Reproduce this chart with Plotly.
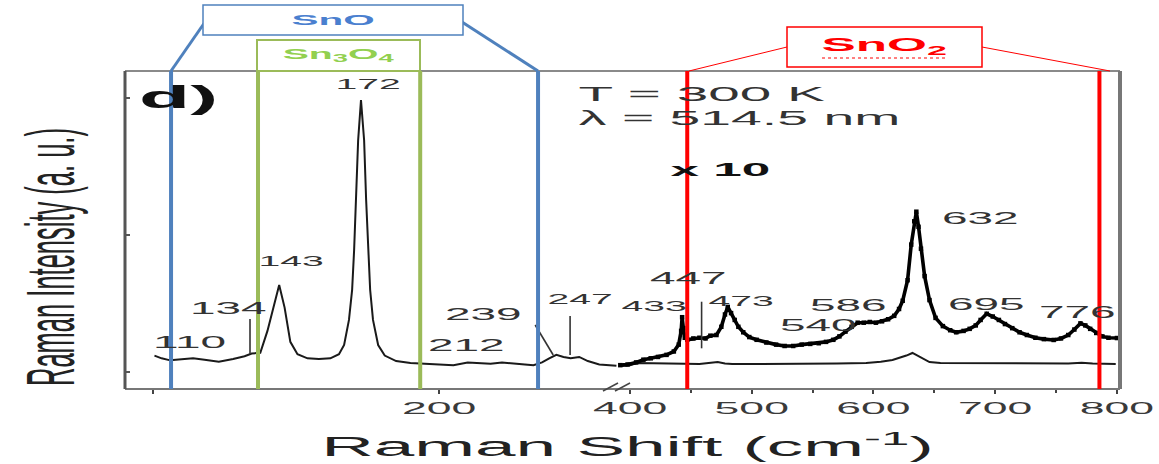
import plotly.graph_objects as go

# ---------------- data ----------------
# left segment of the broken axis (cm-1), unscaled spectrum
left_x = [100.5, 103, 106, 110, 114, 118, 123, 128, 132, 134.5, 137.5, 140, 142, 144.1, 146, 148,
          150.5, 154, 158, 162, 165, 166.8, 168.5, 169.6, 170.3, 171.0, 171.7, 172.7, 173.8, 174.5,
          175.2, 175.9, 176.9, 178.7, 181, 185, 190, 195, 200, 205, 210, 214, 218, 222, 226, 230,
          233, 236, 238.5, 241, 243.5, 246, 249, 252, 256, 259, 262]
left_y = [0.12, 0.10, 0.085, 0.095, 0.10, 0.09, 0.075, 0.095, 0.115, 0.135, 0.14, 0.30, 0.47, 0.635,
          0.47, 0.22, 0.13, 0.10, 0.095, 0.10, 0.13, 0.197, 0.38, 0.60, 0.89, 1.255, 1.69, 1.985,
          1.69, 1.255, 0.89, 0.60, 0.38, 0.197, 0.12, 0.08, 0.065, 0.06, 0.055, 0.05, 0.07, 0.065,
          0.06, 0.07, 0.06, 0.055, 0.05, 0.07, 0.10, 0.125, 0.11, 0.10, 0.11, 0.08, 0.055, 0.05, 0.045]

# right segment, unscaled spectrum
right_x = [391.8, 400, 405.7, 420, 430, 445, 457, 466, 472, 478, 484, 500, 539, 570, 594, 606, 615.6,
           622, 627, 632, 637, 642, 646, 655, 662, 700, 730, 760, 771, 780, 799]
right_y = [0.044, 0.05, 0.066, 0.062, 0.062, 0.06, 0.058, 0.065, 0.073, 0.062, 0.058, 0.058, 0.058,
           0.062, 0.066, 0.075, 0.088, 0.105, 0.12, 0.139, 0.115, 0.088, 0.073, 0.066, 0.066, 0.066,
           0.066, 0.062, 0.068, 0.062, 0.058]

# right segment, spectrum multiplied by 10
x10_x = [392, 398, 405, 411, 417, 423, 430, 436, 440, 442, 442.8, 443.8, 445, 447, 452, 457, 462, 466,
         471, 475, 478, 480.3, 483, 486, 489, 493, 498, 504, 512, 520, 527, 534, 541, 548, 555, 561,
         567, 572, 577, 582, 587, 592, 597, 602, 607, 612, 617, 621, 624, 628, 631, 633.5, 635.2, 637,
         639, 642, 646, 651, 657, 663, 668, 674, 679, 684, 688, 693, 698, 703, 708, 714, 720, 726,
         733, 740, 748, 754, 760, 765, 770, 774, 778, 783, 788, 793, 800]
x10_y = [0.05, 0.055, 0.07, 0.09, 0.10, 0.11, 0.125, 0.15, 0.20, 0.30, 0.40, 0.32, 0.25, 0.235, 0.245,
         0.25, 0.245, 0.265, 0.27, 0.33, 0.42, 0.475, 0.43, 0.38, 0.33, 0.29, 0.255, 0.235, 0.215,
         0.20, 0.19, 0.19, 0.20, 0.205, 0.21, 0.22, 0.235, 0.26, 0.295, 0.33, 0.36, 0.36, 0.365, 0.36,
         0.37, 0.385, 0.41, 0.46, 0.52, 0.67, 0.93, 1.10, 1.17, 1.06, 0.90, 0.70, 0.525, 0.395, 0.335,
         0.305, 0.29, 0.30, 0.315, 0.34, 0.38, 0.425, 0.405, 0.38, 0.35, 0.32, 0.29, 0.27, 0.25, 0.24,
         0.234, 0.245, 0.27, 0.31, 0.355, 0.34, 0.315, 0.285, 0.26, 0.25, 0.248]

# short peak-marker strokes
left_mark_x = [[133.9, 133.9], [245.8, 245.8], [233.6, 239.9]]
left_mark_y = [[0.131, 0.387], [0.124, 0.409], [0.343, 0.124]]
right_mark_x = [[458.8, 458.8]]
right_mark_y = [[0.173, 0.513]]

# peak labels
left_labels = ["110", "134", "143", "172", "212", "239", "247"]
left_label_x = [112.9, 126.2, 148.3, 175.2, 209.4, 215.4, 249.3]
left_label_y = [0.219, 0.467, 0.810, 2.102, 0.190, 0.423, 0.533]
right_labels = ["433", "447", "473", "540", "586", "632", "695", "776"]
right_label_x = [419.7, 447.5, 491.0, 554.1, 578.7, 687.7, 692.6, 767.2]
right_label_y = [0.482, 0.679, 0.518, 0.336, 0.489, 1.117, 0.496, 0.438]

# axis ticks
left_tickvals = [200]
left_minor_ticks = [100]
right_tickvals = [400, 500, 600, 700, 800]
right_minor_ticks = [450, 550, 650, 750]
y_tickvals = [0, 1, 2]

# phase ranges (cm-1)
sno_range = [106.3, 234.6]
sn3o4_range = [136.7, 193.4]
sno2_range = [447, 785.6]

# ---------------- layout helpers ----------------
W, H = 1159, 464
ML, MR, MT, MB = 125, 39, 71, 75
PW = W - ML - MR
PH = H - MT - MB


def px(v):
    return (v - ML) / PW


def py(v):
    return (H - MB - v) / PH


split = px(617)
FONT = "Liberation Sans, Arial, sans-serif"
TXT = "#333333"
BLUE = "#4F81BD"
GREEN = "#9BBB59"
RED = "#FF0000"

fig = go.Figure()

fig.add_trace(go.Scatter(x=left_x, y=left_y, xaxis="x", yaxis="y", mode="lines",
                         line=dict(color="#1a1a1a", width=2), hoverinfo="skip"))
fig.add_trace(go.Scatter(x=right_x, y=right_y, xaxis="x2", yaxis="y", mode="lines",
                         line=dict(color="#1a1a1a", width=2), hoverinfo="skip"))
fig.add_trace(go.Scatter(x=x10_x, y=x10_y, xaxis="x2", yaxis="y", mode="lines+markers",
                         line=dict(color="#000000", width=3.6),
                         marker=dict(symbol="square", size=4.5, color="#000000"),
                         hoverinfo="skip"))
for mx, my in zip(left_mark_x, left_mark_y):
    fig.add_trace(go.Scatter(x=mx, y=my, xaxis="x", yaxis="y", mode="lines",
                             line=dict(color="#333333", width=1.6), hoverinfo="skip"))
for mx, my in zip(right_mark_x, right_mark_y):
    fig.add_trace(go.Scatter(x=mx, y=my, xaxis="x2", yaxis="y", mode="lines",
                             line=dict(color="#333333", width=1.6), hoverinfo="skip"))

ann = []
small = {"143", "172", "247", "433", "473"}
for t, x, y in zip(left_labels, left_label_x, left_label_y):
    ann.append(dict(text=t, x=x, y=y, xref="x", yref="y", showarrow=False,
                    xanchor="center", yanchor="middle",
                    font=dict(family=FONT, size=14.5 if t in small else 17, color=TXT)))
for t, x, y in zip(right_labels, right_label_x, right_label_y):
    ann.append(dict(text=t, x=x, y=y, xref="x2", yref="y", showarrow=False,
                    xanchor="center", yanchor="middle",
                    font=dict(family=FONT, size=14.5 if t in small else 17, color=TXT)))


def note(text, xp, yp, size, color, angle=0):
    return dict(text=text, x=px(xp), y=py(yp), xref="paper", yref="paper", showarrow=False,
                xanchor="center", yanchor="middle", textangle=angle,
                font=dict(family=FONT, size=size, color=color))


ann += [
    note("T = 300 K", 701, 93.5, 21, TXT),
    note("λ = 514.5 nm", 739.5, 117.5, 20.5, TXT),
    note("<b>x 10</b>", 720, 169, 19, "#111"),
    note("<b>d)</b>", 178, 97, 31, "#111"),
    note("Raman Intensity (a. u.)", 50, 257, 25.5, "#222", -90),
    note("Raman Shift (cm<sup>-1</sup>)", 627, 445, 27, "#222"),
    note("<b>SnO</b>", 333, 20, 15, "#4A7FCF"),
    note("<b>Sn<sub>3</sub>O<sub>4</sub></b>", 338, 55, 14.5, "#92D050"),
    note("<b>SnO<sub>2</sub></b>", 884, 46, 19, RED),
]

shapes = []
# frame
shapes += [
    dict(type="line", xref="paper", yref="paper", x0=0, x1=1, y0=1, y1=1, line=dict(color="#8a8a8a", width=2)),
    dict(type="line", xref="paper", yref="paper", x0=0, x1=1, y0=0, y1=0, line=dict(color="#777", width=2)),
    dict(type="line", xref="paper", yref="paper", x0=0, x1=0, y0=0, y1=1, line=dict(color="#555", width=3)),
    dict(type="line", xref="paper", yref="paper", x0=1, x1=1, y0=0, y1=1, line=dict(color="#777", width=4)),
    # axis break marks
    dict(type="line", xref="paper", yref="paper", x0=px(603), x1=px(618), y0=py(391), y1=py(383),
         line=dict(color="#444", width=1.5)),
    dict(type="line", xref="paper", yref="paper", x0=px(615), x1=px(630), y0=py(391), y1=py(383),
         line=dict(color="#444", width=1.5)),
]
# phase markers (vertical lines)
for xv in sno_range:
    shapes.append(dict(type="line", xref="x", yref="paper", x0=xv, x1=xv, y0=0, y1=1,
                       line=dict(color=BLUE, width=4), layer="above"))
for xv in sn3o4_range:
    shapes.append(dict(type="line", xref="x", yref="paper", x0=xv, x1=xv, y0=0, y1=1,
                       line=dict(color=GREEN, width=4), layer="above"))
for xv in sno2_range:
    shapes.append(dict(type="line", xref="x2", yref="paper", x0=xv, x1=xv, y0=0, y1=1,
                       line=dict(color=RED, width=4), layer="above"))
# connectors
shapes += [
    dict(type="line", xref="paper", yref="paper", x0=px(205), y0=py(22), x1=px(171), y1=1,
         line=dict(color=BLUE, width=3)),
    dict(type="line", xref="paper", yref="paper", x0=px(462), y0=py(22), x1=px(538), y1=1,
         line=dict(color=BLUE, width=3)),
    dict(type="line", xref="paper", yref="paper", x0=px(787), y0=py(47), x1=px(689), y1=1,
         line=dict(color=RED, width=1)),
    dict(type="line", xref="paper", yref="paper", x0=px(982), y0=py(47), x1=px(1110), y1=1,
         line=dict(color=RED, width=1)),
]
# boxes
shapes += [
    dict(type="rect", xref="paper", yref="paper", x0=px(203), x1=px(463), y0=py(35), y1=py(5),
         line=dict(color=BLUE, width=1.5), fillcolor="white"),
    dict(type="rect", xref="paper", yref="paper", x0=px(257), x1=px(420), y0=py(71), y1=py(40),
         line=dict(color=GREEN, width=2), fillcolor="white"),
    dict(type="rect", xref="paper", yref="paper", x0=px(787), x1=px(982), y0=py(67), y1=py(27),
         line=dict(color=RED, width=1.5), fillcolor="white"),
    dict(type="line", xref="paper", yref="paper", x0=px(822), x1=px(946), y0=py(58), y1=py(58),
         line=dict(color=RED, width=1, dash="dot")),
]

tickfont = dict(family=FONT, size=16.5, color="#3a3a3a")
fig.update_layout(
    width=W, height=H, autosize=False,
    margin=dict(l=ML, r=MR, t=MT, b=MB, pad=0),
    paper_bgcolor="white", plot_bgcolor="white",
    showlegend=False,
    xaxis=dict(domain=[0, split], range=[90.2, 262.2], anchor="y", tickmode="array",
               tickvals=left_tickvals, ticks="outside", ticklen=4, tickwidth=2, tickcolor="#444",
               minor=dict(tickmode="array", tickvals=left_minor_ticks, ticks="outside", ticklen=4,
                          tickwidth=2, tickcolor="#444", showgrid=False),
               showline=False, showgrid=False, zeroline=False, tickfont=tickfont),
    xaxis2=dict(domain=[split, 1], range=[389.3, 802.5], anchor="y", tickmode="array",
                tickvals=right_tickvals, ticks="outside", ticklen=4, tickwidth=2, tickcolor="#444",
                minor=dict(tickmode="array", tickvals=right_minor_ticks, ticks="outside", ticklen=3,
                           tickwidth=2, tickcolor="#444", showgrid=False),
                showline=False, showgrid=False, zeroline=False, tickfont=tickfont),
    yaxis=dict(range=[-0.124, 2.197], tickvals=y_tickvals, ticks="inside", ticklen=5, tickwidth=1.5,
               tickcolor="#555", showticklabels=False, showline=False, showgrid=False, zeroline=False),
    annotations=ann,
    shapes=shapes,
)

# the reference picture is stretched horizontally; widen every text glyph the same way
stretch_js = """
var gd = document.getElementById('{plot_id}');
var SX = 2.7;
var texts = gd.querySelectorAll('.main-svg text');
for (var i = 0; i < texts.length; i++) {
  var t = texts[i];
  var bb;
  try { bb = t.getBBox(); } catch (e) { continue; }
  if (!bb || bb.width === 0) continue;
  var m = t.getCTM();
  var tr = t.getAttribute('transform') || '';
  var extra;
  if (m && Math.abs(m.a) < 0.5) {
    var cy = bb.y + bb.height / 2;
    extra = ' translate(0,' + cy + ') scale(1,' + SX + ') translate(0,' + (-cy) + ')';
  } else {
    var cx = bb.x + bb.width / 2;
    extra = ' translate(' + cx + ',0) scale(' + SX + ',1) translate(' + (-cx) + ',0)';
  }
  t.setAttribute('transform', tr + extra);
}
"""

fig.write_html("out.html", config={"displayModeBar": False, "staticPlot": True}, post_script=stretch_js)
